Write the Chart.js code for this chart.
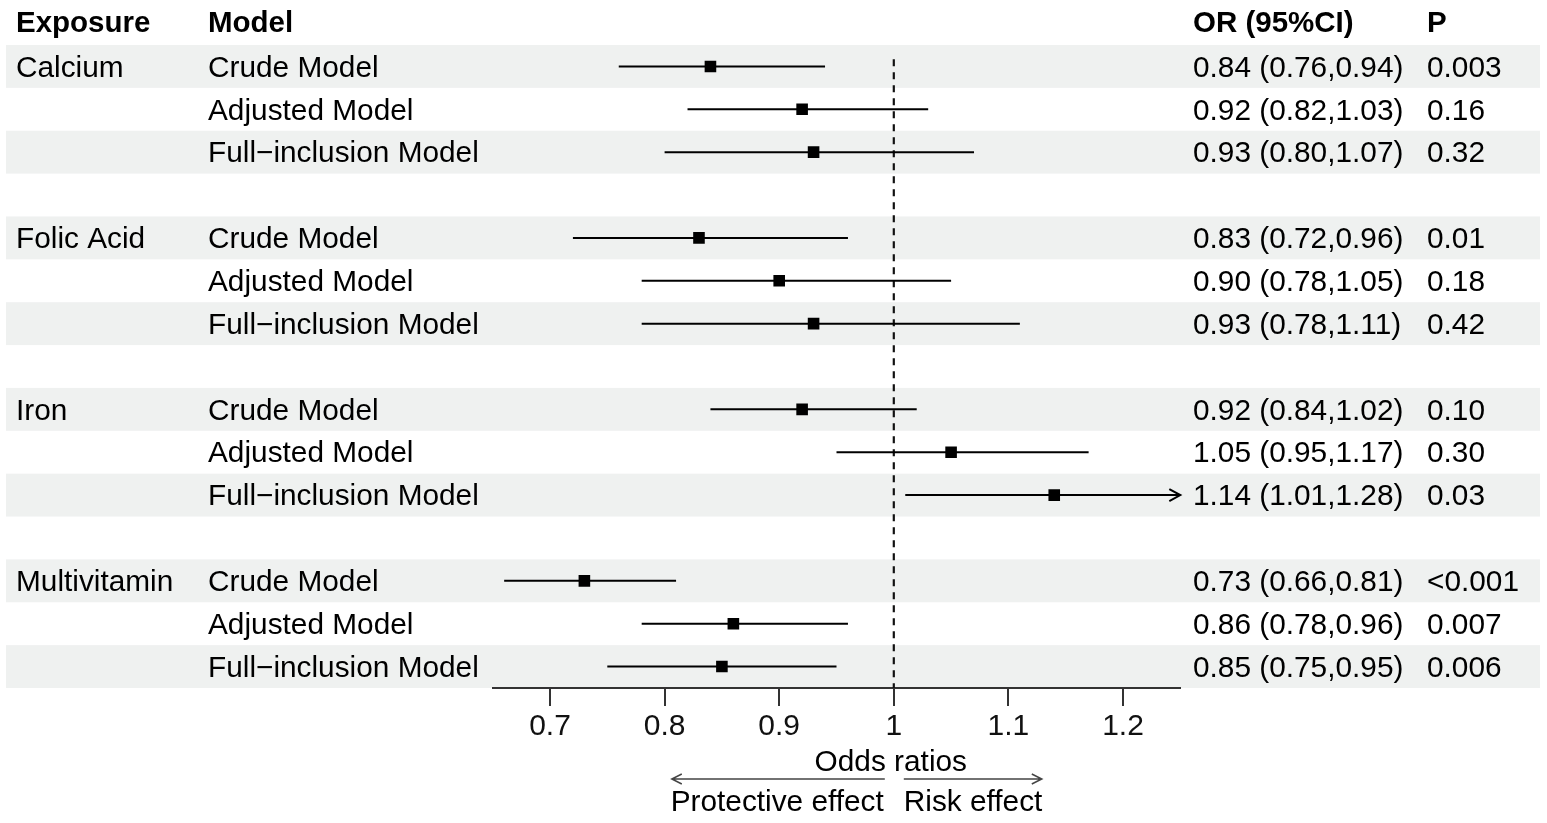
<!DOCTYPE html>
<html lang="en">
<head>
<meta charset="UTF-8" />
<title>Forest plot</title>
<script src="https://cdn.jsdelivr.net/npm/chart.js"></script>
<style>
  html, body { margin: 0; padding: 0; background: #fff; }
  #wrap { width: 1547px; height: 823px; position: relative; }
</style>
</head>
<body>
<div id="wrap"><canvas id="forest"></canvas></div>
<script>
const exposures = ["Calcium", "Folic Acid", "Iron", "Multivitamin"];
const models = ["Crude Model", "Adjusted Model", "Full−inclusion Model"];
const oddsRatios = [0.84, 0.92, 0.93, 0.83, 0.90, 0.93, 0.92, 1.05, 1.14, 0.73, 0.86, 0.85];
const lowerCI    = [0.76, 0.82, 0.80, 0.72, 0.78, 0.78, 0.84, 0.95, 1.01, 0.66, 0.78, 0.75];
const upperCI    = [0.94, 1.03, 1.07, 0.96, 1.05, 1.11, 1.02, 1.17, 1.28, 0.81, 0.96, 0.95];
const pValues = ["0.003", "0.16", "0.32", "0.01", "0.18", "0.42", "0.10", "0.30", "0.03", "<0.001", "0.007", "0.006"];
const headers = ["Exposure", "Model", "OR (95%CI)", "P"];
const tickValues = [0.7, 0.8, 0.9, 1, 1.1, 1.2];
const tickLabels = ["0.7", "0.8", "0.9", "1", "1.1", "1.2"];
const xMin = 0.65, xMax = 1.25;

const FONT = "'Liberation Sans', Arial, sans-serif";
const colX = [16, 208, 1193, 1427];
const nRows = exposures.length * 4 - 1;

// 3 rows per exposure, then one empty row
const rowOf = (i) => Math.floor(i / 3) * 4 + (i % 3);

const datasets = [];
// squares
datasets.push({
  data: oddsRatios.map((v, i) => ({ x: v, y: rowOf(i) })),
  pointStyle: 'rect',
  pointRadius: 8.2,
  pointBackgroundColor: '#000',
  pointBorderWidth: 0,
  showLine: false,
  order: 0
});
// CI lines
oddsRatios.forEach((v, i) => {
  datasets.push({
    data: [{ x: lowerCI[i], y: rowOf(i) }, { x: upperCI[i], y: rowOf(i) }],
    showLine: true,
    borderColor: '#000',
    borderWidth: 2,
    pointRadius: 0,
    order: 1
  });
});
// reference line at OR = 1
datasets.push({
  data: [{ x: 1, y: -0.17 }, { x: 1, y: nRows - 0.5 }],
  showLine: true,
  borderColor: '#111',
  borderWidth: 2.2,
  borderDash: [7, 6],
  pointRadius: 0,
  order: 2
});

const tablePlugin = {
  id: 'table',
  beforeDraw(chart) {
    const { ctx, chartArea, scales: { y } } = chart;
    ctx.save();
    ctx.fillStyle = '#eff1f0';
    for (let r = 0; r < nRows; r += 2) {
      const top = y.getPixelForValue(r - 0.5);
      const bot = Math.min(y.getPixelForValue(r + 0.5), chartArea.bottom);
      ctx.fillRect(6, top, 1534, bot - top);
    }
    ctx.restore();
  },
  afterDatasetsDraw(chart) {
    // arrow heads where the CI runs past the axis
    const { ctx, chartArea, scales: { y } } = chart;
    ctx.save();
    ctx.strokeStyle = '#000';
    ctx.lineWidth = 2;
    upperCI.forEach((u, i) => {
      if (u <= xMax) return;
      const py = y.getPixelForValue(rowOf(i));
      const px = chartArea.right;
      ctx.beginPath();
      ctx.moveTo(px - 11, py - 6);
      ctx.lineTo(px, py);
      ctx.lineTo(px - 11, py + 6);
      ctx.stroke();
    });
    ctx.restore();
  },
  afterDraw(chart) {
    const { ctx, scales: { x, y } } = chart;
    ctx.save();
    ctx.fillStyle = '#000';
    ctx.textBaseline = 'middle';
    ctx.textAlign = 'left';

    ctx.font = 'bold 29.5px ' + FONT;
    const hy = y.getPixelForValue(-1.05) + 2;
    headers.forEach((h, c) => ctx.fillText(h, colX[c], hy));

    ctx.font = '29.8px ' + FONT;
    exposures.forEach((e, g) => {
      ctx.fillText(e, colX[0], y.getPixelForValue(g * 4) + 2);
    });
    oddsRatios.forEach((v, i) => {
      const py = y.getPixelForValue(rowOf(i)) + 2;
      ctx.fillText(models[i % 3], colX[1], py);
      const txt = v.toFixed(2) + ' (' + lowerCI[i].toFixed(2) + ',' + upperCI[i].toFixed(2) + ')';
      ctx.fillText(txt, colX[2], py);
      ctx.fillText(pValues[i], colX[3], py);
    });

    // axis title and direction arrows
    const p1 = x.getPixelForValue(1);
    ctx.textAlign = 'center';
    ctx.fillText('Odds ratios', p1 - 3, 763);

    ctx.strokeStyle = '#444';
    ctx.lineWidth = 1.5;
    const ay = 779;
    ctx.beginPath();
    ctx.moveTo(p1 - 9, ay); ctx.lineTo(p1 - 222, ay);
    ctx.moveTo(p1 - 212, ay - 5); ctx.lineTo(p1 - 222, ay); ctx.lineTo(p1 - 212, ay + 5);
    ctx.moveTo(p1 + 10, ay); ctx.lineTo(p1 + 148, ay);
    ctx.moveTo(p1 + 138, ay - 5); ctx.lineTo(p1 + 148, ay); ctx.lineTo(p1 + 138, ay + 5);
    ctx.stroke();

    ctx.textAlign = 'right';
    ctx.fillText('Protective effect', p1 - 10, 803);
    ctx.textAlign = 'left';
    ctx.fillText('Risk effect', p1 + 10, 803);
    ctx.restore();
  }
};

new Chart(document.getElementById('forest'), {
  type: 'scatter',
  data: { datasets },
  options: {
    responsive: true,
    maintainAspectRatio: false,
    animation: false,
    events: [],
    layout: { padding: { left: 492.7, right: 366.7, top: 45, bottom: 0 } },
    plugins: { legend: { display: false }, tooltip: { enabled: false } },
    scales: {
      x: {
        type: 'linear',
        min: xMin,
        max: xMax,
        afterBuildTicks: (s) => { s.ticks = tickValues.map((v) => ({ value: v })); },
        afterFit: (s) => { s.height = 135; },
        ticks: {
          autoSkip: false,
          maxRotation: 0,
          padding: 3,
          color: '#111',
          font: { family: FONT, size: 30 },
          callback: (v) => tickLabels[tickValues.indexOf(v)] ?? ''
        },
        grid: { drawOnChartArea: false, drawTicks: true, tickLength: 18, color: '#333', lineWidth: 2 },
        border: { display: true, color: '#333', width: 2 }
      },
      y: {
        type: 'linear',
        min: -0.5,
        max: nRows - 0.5,
        reverse: true,
        display: false
      }
    }
  },
  plugins: [tablePlugin]
});
</script>
</body>
</html>
